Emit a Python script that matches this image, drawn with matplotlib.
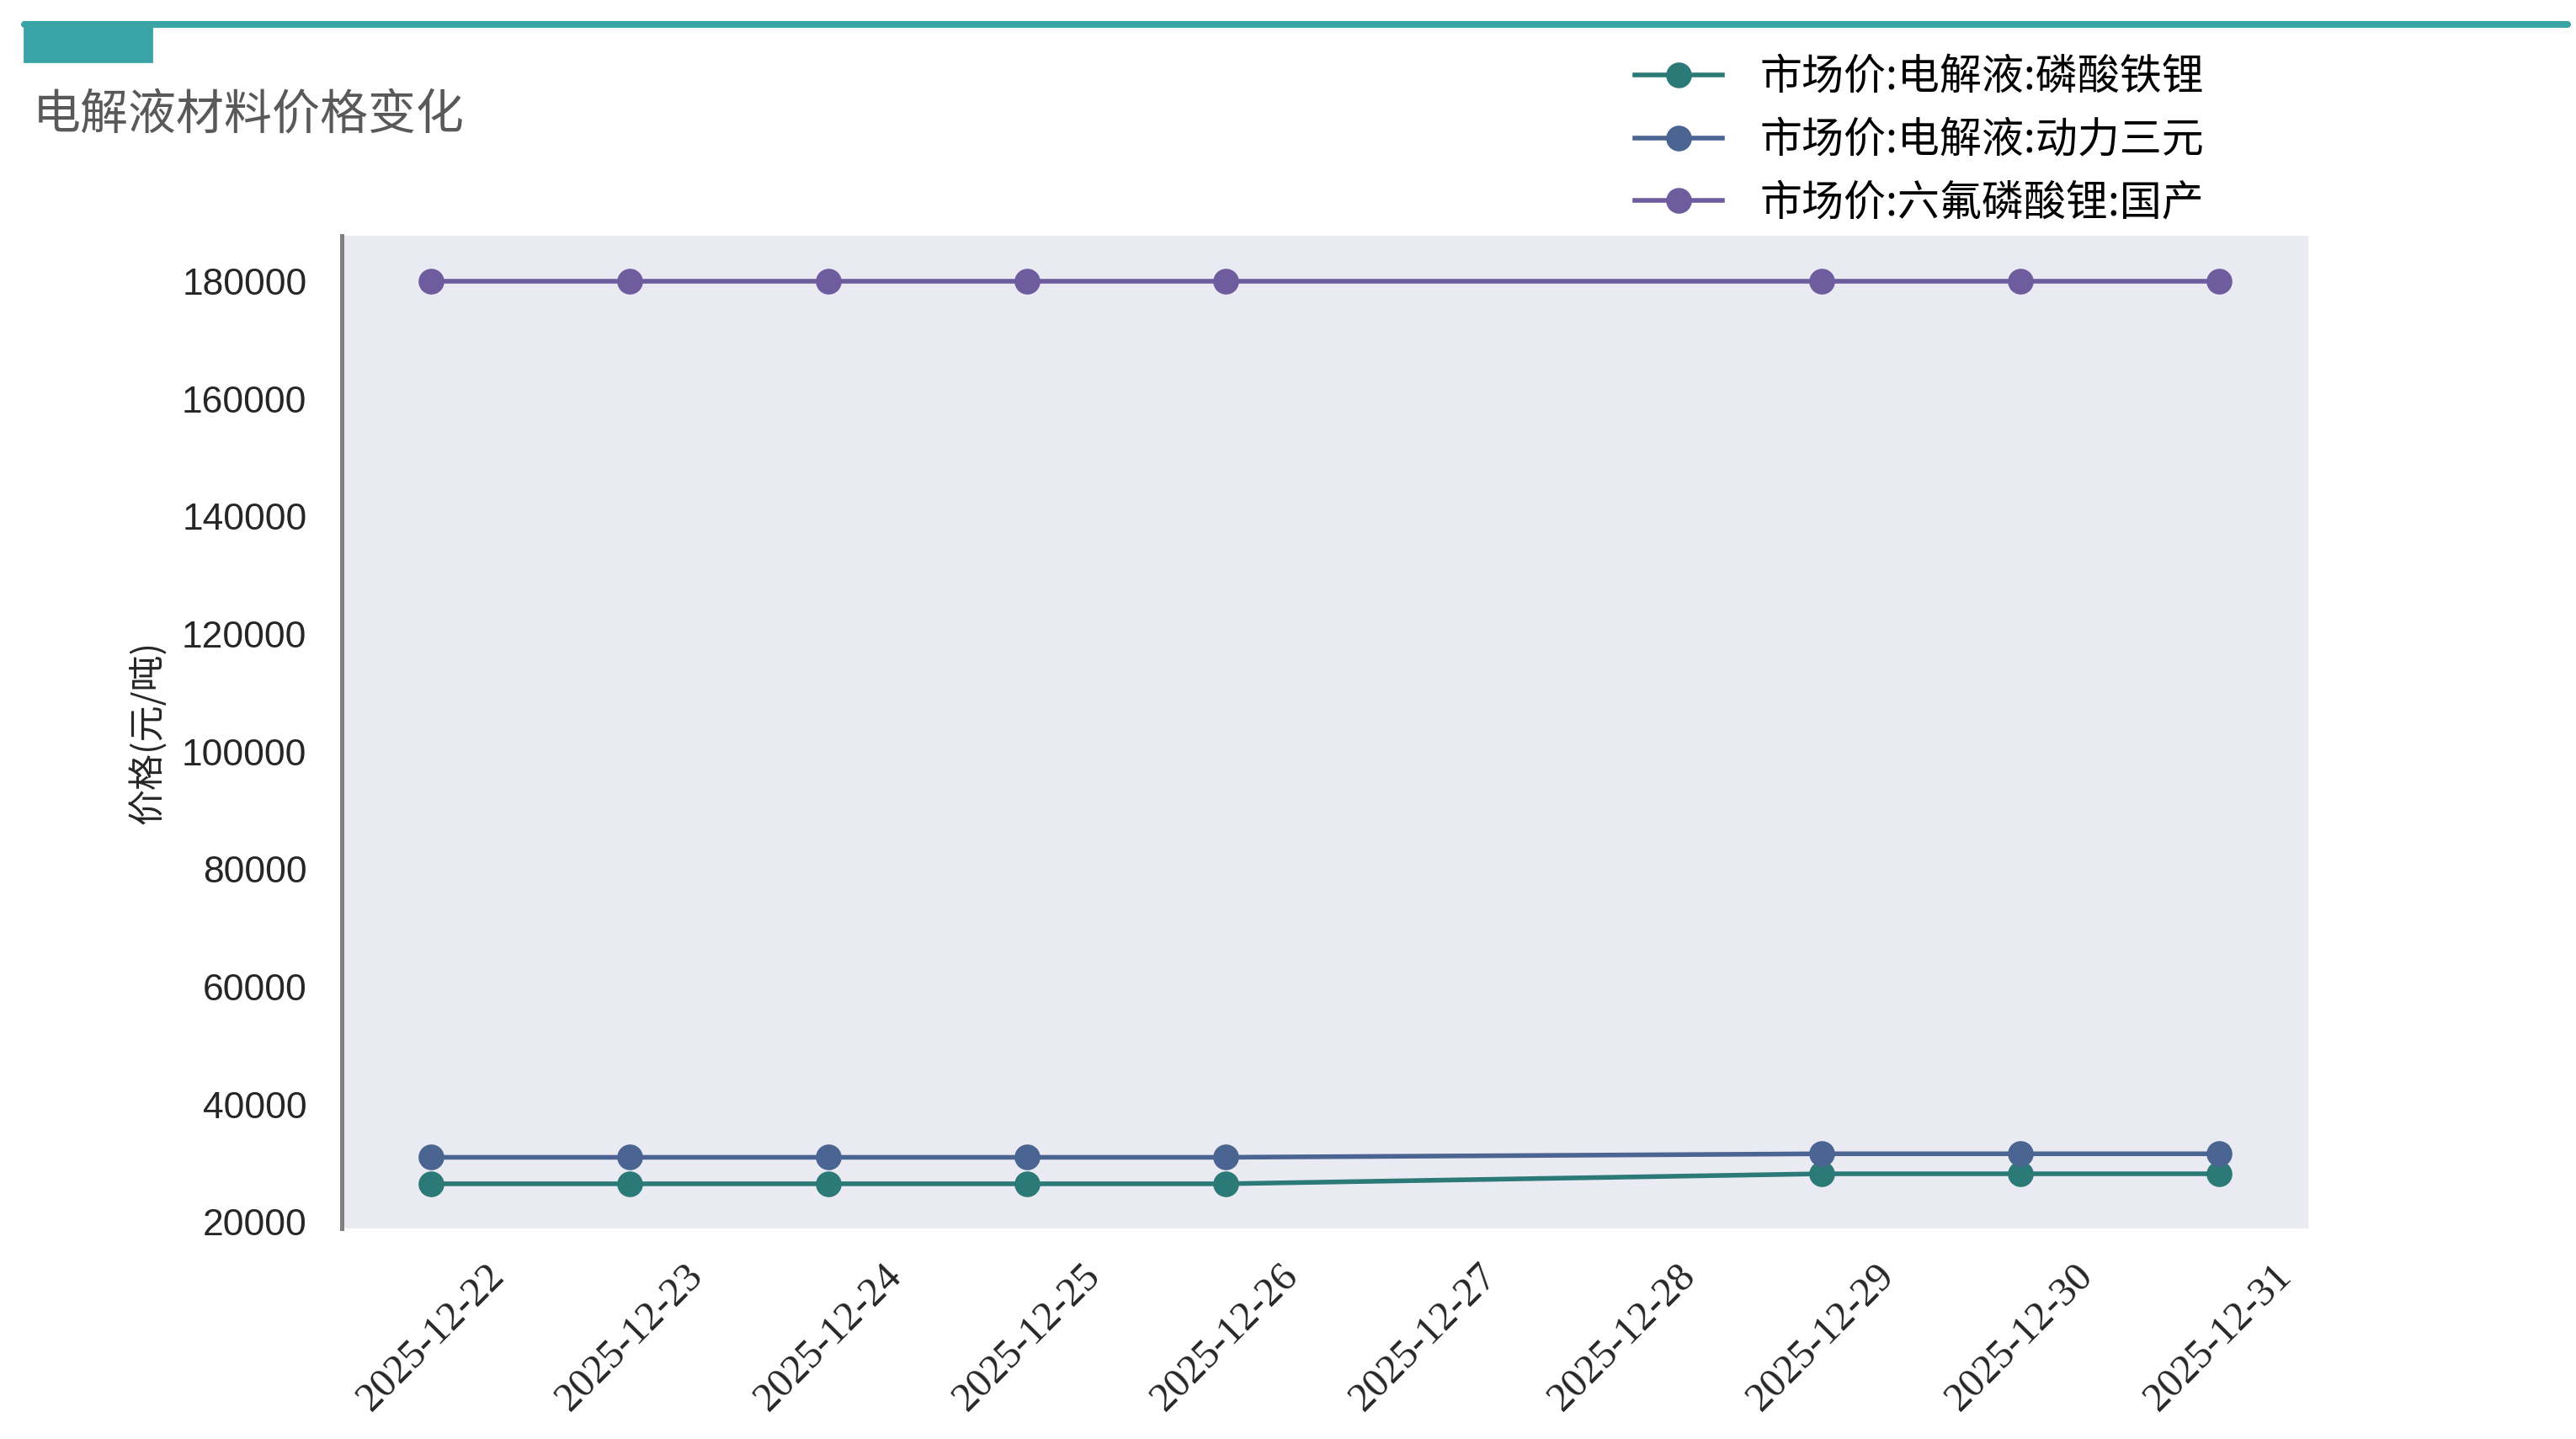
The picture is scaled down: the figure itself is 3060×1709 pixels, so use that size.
import matplotlib
matplotlib.use("Agg")
import matplotlib.pyplot as plt
import matplotlib.dates as mdates
from matplotlib.lines import Line2D
from matplotlib.patches import Rectangle
from datetime import datetime, timedelta

CJK = ["Noto Sans CJK SC", "DejaVu Sans"]
plt.rcParams["font.family"] = CJK

# data
dates = ["2025-12-22", "2025-12-23", "2025-12-24", "2025-12-25", "2025-12-26",
         "2025-12-29", "2025-12-30", "2025-12-31"]
lfp_electrolyte = [26500, 26500, 26500, 26500, 26500, 28200, 28200, 28200]
ternary_electrolyte = [31000, 31000, 31000, 31000, 31000, 31600, 31600, 31600]
lipf6 = [180000, 180000, 180000, 180000, 180000, 180000, 180000, 180000]

series_names = ["市场价:电解液:磷酸铁锂", "市场价:电解液:动力三元", "市场价:六氟磷酸锂:国产"]
colors = ["#2B7A78", "#4B6592", "#6E5C9E"]

title = "电解液材料价格变化"
ylabel = "价格(元/吨)"

x = [datetime.strptime(d, "%Y-%m-%d") for d in dates]

fig = plt.figure(figsize=(15.3, 8.545), dpi=200)
ax = fig.add_axes([0.1327, 0.146, 0.7633, 0.690])
ax.set_facecolor("#EAEAF2")

for vals, name, c in zip([lfp_electrolyte, ternary_electrolyte, lipf6], series_names, colors):
    ax.plot(x, vals, color=c, lw=2, marker="o", markersize=10, label=name)

# one tick per day, including the days without data
first = x[0]
ticks = [first + timedelta(days=i) for i in range((x[-1] - first).days + 1)]
ax.set_xticks(ticks)
ax.xaxis.set_major_formatter(mdates.DateFormatter("%Y-%m-%d"))
for lab in ax.get_xticklabels():
    lab.set_family("Liberation Serif")
    lab.set_fontsize(17.5)
    lab.set_rotation(45)
    lab.set_color("#262626")
for lab in ax.get_yticklabels():
    lab.set_family("Liberation Sans")
    lab.set_fontsize(16)
    lab.set_color("#262626")

ax.tick_params(axis="x", length=0, pad=12)
ax.tick_params(axis="y", length=0, pad=15)
ax.set_yticks(range(20000, 180001, 20000))
ax.margins(x=0.05, y=0.05)

for side in ["top", "right", "bottom"]:
    ax.spines[side].set_visible(False)
ax.spines["left"].set_color("#808080")
ax.spines["left"].set_linewidth(1.8)

ax.set_ylabel(ylabel, fontsize=15.5, color="#262626", labelpad=6)

# header decoration
fig.add_artist(Line2D([0.0095, 0.9966], [0.983, 0.983], color="#3AA3A5", lw=2.9,
                      solid_capstyle="round", transform=fig.transFigure))
fig.add_artist(Rectangle((0.0095, 0.957), 0.0493, 0.028, color="#3AA3A5",
                         transform=fig.transFigure))
fig.text(0.0128, 0.920, title, fontsize=20.5, color="#595959", va="center", ha="left")

fig.legend(loc="upper left", bbox_to_anchor=(0.6346, 0.961), frameon=False,
           fontsize=18, handlelength=2.08, handletextpad=0.9, labelspacing=0.45,
           borderpad=0, borderaxespad=0)

fig.savefig("out.png", dpi=200)
